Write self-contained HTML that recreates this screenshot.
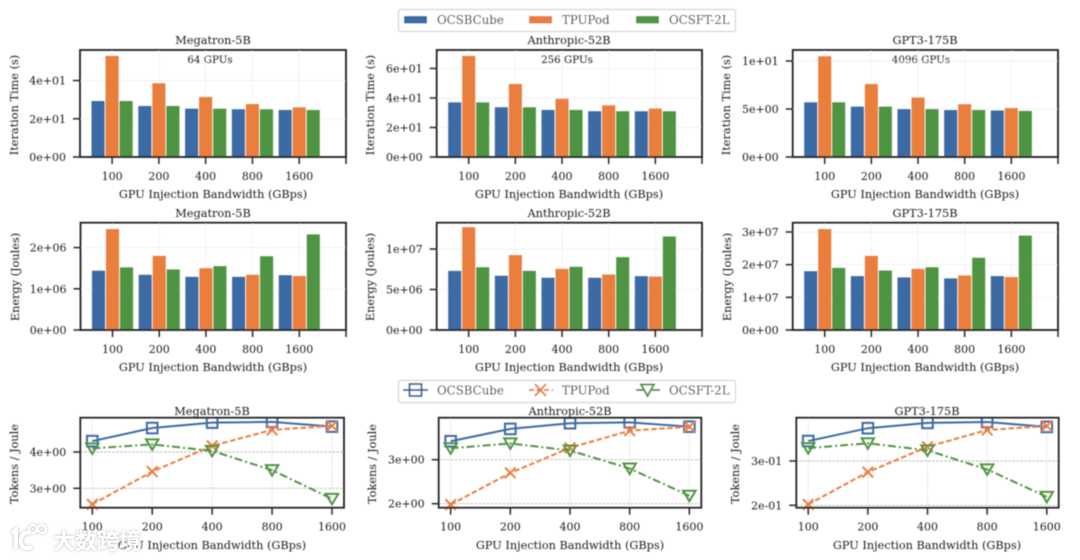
<!DOCTYPE html>
<html lang="en">
<head>
<meta charset="utf-8">
<title>GPU Injection Bandwidth Comparison</title>
<style>
html,body{margin:0;padding:0;background:#fff;}
body{width:1080px;height:560px;overflow:hidden;}
svg{display:block;}
text{font-family:"DejaVu Serif","Liberation Serif",serif;fill:#1c1c1c;}
.tk{font-size:11px;}
.lb{font-size:11.3px;text-anchor:middle;}
.an{font-size:10.3px;text-anchor:middle;}
.lg{font-size:11.8px;}
.wm{font-family:"Liberation Sans","Noto Sans CJK SC",sans-serif;fill:#fff;font-weight:700;font-size:22px;}
</style>
</head>
<body>
<svg id="chart" xmlns="http://www.w3.org/2000/svg" width="1080" height="560" viewBox="0 0 1080 560">
<defs>
<filter id="soft" x="-2%" y="-2%" width="104%" height="104%"><feGaussianBlur stdDeviation="0.42"/></filter>
<filter id="glow" x="-20%" y="-20%" width="140%" height="140%"><feGaussianBlur stdDeviation="1.6"/></filter>
</defs>
<rect width="1080" height="560" fill="#fff"/>
<g id="plot" filter="url(#soft)">
<g id="panels"></g>

<g>
<text class="lb" x="213" y="44">Megatron-5B</text>
<text class="lb" x="569" y="44">Anthropic-52B</text>
<text class="lb" x="925" y="44">GPT3-175B</text>
<text class="lb" x="213" y="217">Megatron-5B</text>
<text class="lb" x="569" y="217">Anthropic-52B</text>
<text class="lb" x="925" y="217">GPT3-175B</text>
<text class="lb" x="212" y="415">Megatron-5B</text>
<text class="lb" x="570" y="415">Anthropic-52B</text>
<text class="lb" x="927" y="415">GPT3-175B</text>
</g>

<g>
<text class="an" x="210" y="63">64 GPUs</text>
<text class="an" x="567" y="63">256 GPUs</text>
<text class="an" x="921" y="63">4096 GPUs</text>
</g>

<g>
<text class="lb" x="213" y="198">GPU Injection Bandwidth (GBps)</text>
<text class="lb" x="569" y="198">GPU Injection Bandwidth (GBps)</text>
<text class="lb" x="925" y="198">GPU Injection Bandwidth (GBps)</text>
<text class="lb" x="213" y="371">GPU Injection Bandwidth (GBps)</text>
<text class="lb" x="569" y="371">GPU Injection Bandwidth (GBps)</text>
<text class="lb" x="925" y="371">GPU Injection Bandwidth (GBps)</text>
<text class="lb" x="212" y="549">GPU Injection Bandwidth (GBps)</text>
<text class="lb" x="570" y="549">GPU Injection Bandwidth (GBps)</text>
<text class="lb" x="927" y="549">GPU Injection Bandwidth (GBps)</text>
</g>

<g>
<text class="lb" transform="translate(18 105) rotate(-90)">Iteration Time (s)</text>
<text class="lb" transform="translate(374 105) rotate(-90)">Iteration Time (s)</text>
<text class="lb" transform="translate(730 105) rotate(-90)">Iteration Time (s)</text>
<text class="lb" transform="translate(19 277) rotate(-90)">Energy (Joules)</text>
<text class="lb" transform="translate(374 277) rotate(-90)">Energy (Joules)</text>
<text class="lb" transform="translate(731 277) rotate(-90)">Energy (Joules)</text>
<text class="lb" transform="translate(18 464) rotate(-90)">Tokens / Joule</text>
<text class="lb" transform="translate(376 464) rotate(-90)">Tokens / Joule</text>
<text class="lb" transform="translate(739 464) rotate(-90)">Tokens / Joule</text>
</g>

<g>
<rect x="398.5" y="9.5" width="337" height="22" rx="2" fill="#fff" stroke="#d4d4d4" stroke-width="1.2"/>
<rect x="404" y="16" width="23" height="7.5" fill="#3a6ba5"/>
<text class="lg" x="437" y="24">OCSBCube</text>
<rect x="529" y="16" width="23" height="7.5" fill="#e97e3e"/>
<text class="lg" x="562" y="24">TPUPod</text>
<rect x="636" y="16" width="23" height="7.5" fill="#4f9442"/>
<text class="lg" x="669" y="24">OCSFT-2L</text>
</g>

<g>
<rect x="398.5" y="380.5" width="337" height="22" rx="2" fill="#fff" stroke="#d4d4d4" stroke-width="1.2"/>
<g>
<line x1="403" y1="390" x2="428" y2="390" stroke="#3a6ba5" stroke-width="2"/>
<rect x="409.5" y="384" width="12" height="12" fill="none" stroke="#3a6ba5" stroke-width="2"/>
</g>
<text class="lg" x="437" y="394.5">OCSBCube</text>
<g>
<line x1="529" y1="390" x2="553" y2="390" stroke="#e97e3e" stroke-width="2" stroke-dasharray="5 2.5"/>
<path d="M535 384L546 396M546 384L535 396" fill="none" stroke="#e97e3e" stroke-width="2"/>
</g>
<text class="lg" x="562" y="394.5">TPUPod</text>
<g>
<line x1="636" y1="390" x2="660" y2="390" stroke="#4f9442" stroke-width="2" stroke-dasharray="8 3 2 3"/>
<path d="M641 384.5H654L647.5 396Z" fill="#fff" stroke="#4f9442" stroke-width="2"/>
</g>
<text class="lg" x="669" y="394.5">OCSFT-2L</text>
</g>
</g>

<g>
<g filter="url(#glow)" opacity="0.8">
<text class="wm" x="53" y="549" style="fill:#aaa">大数跨境</text>
<path d="M12 533L16 530V549M30 533C22 531 20 538 21 543C22 548 27 549 32 547" fill="none" stroke="#aaa" stroke-width="4"/>
<circle cx="33" cy="529" r="4" fill="none" stroke="#aaa" stroke-width="2"/>
<circle cx="42" cy="529" r="4" fill="none" stroke="#aaa" stroke-width="2"/>
</g>
<path d="M12 533L16 530V549M30 533C22 531 20 538 21 543C22 548 27 549 32 547" fill="none" stroke="#fff" stroke-width="4"/>
<circle cx="33" cy="529" r="4" fill="none" stroke="#fff" stroke-width="2"/>
<circle cx="42" cy="529" r="4" fill="none" stroke="#fff" stroke-width="2"/>
<text class="wm" x="53" y="549">大数跨境</text>
</g>
</svg>

<script>
const categories = ["100", "200", "400", "800", "1600"];

const iterMegatronOCSBCube = [29.3, 26.7, 25.3, 25.0, 24.6];
const iterMegatronTPUPod = [52.9, 38.6, 31.4, 27.7, 26.0];
const iterMegatronOCSFT = [29.3, 26.7, 25.3, 25.0, 24.6];
const iterMegatronTicks = [0, 20, 40];
const iterMegatronTickLabels = ["0e+00", "2e+01", "4e+01"];

const iterAnthropicOCSBCube = [37.0, 33.7, 31.9, 31.0, 31.0];
const iterAnthropicTPUPod = [68.5, 49.5, 39.5, 35.0, 32.8];
const iterAnthropicOCSFT = [37.0, 33.7, 31.9, 31.0, 31.0];
const iterAnthropicTicks = [0, 20, 40, 60];
const iterAnthropicTickLabels = ["0e+00", "2e+01", "4e+01", "6e+01"];

const iterGptOCSBCube = [5.7, 5.25, 5.0, 4.9, 4.85];
const iterGptTPUPod = [10.5, 7.6, 6.2, 5.5, 5.1];
const iterGptOCSFT = [5.7, 5.25, 5.0, 4.9, 4.8];
const iterGptTicks = [0, 5, 10];
const iterGptTickLabels = ["0e+00", "5e+00", "1e+01"];

const energyMegatronOCSBCube = [1.44e6, 1.34e6, 1.29e6, 1.29e6, 1.33e6];
const energyMegatronTPUPod = [2.45e6, 1.80e6, 1.50e6, 1.34e6, 1.31e6];
const energyMegatronOCSFT = [1.52e6, 1.47e6, 1.55e6, 1.79e6, 2.32e6];
const energyMegatronTicks = [0, 1e6, 2e6];
const energyMegatronTickLabels = ["0e+00", "1e+06", "2e+06"];

const energyAnthropicOCSBCube = [7.3e6, 6.7e6, 6.45e6, 6.45e6, 6.65e6];
const energyAnthropicTPUPod = [12.7e6, 9.25e6, 7.55e6, 6.85e6, 6.6e6];
const energyAnthropicOCSFT = [7.75e6, 7.3e6, 7.8e6, 9.0e6, 11.55e6];
const energyAnthropicTicks = [0, 5e6, 1e7];
const energyAnthropicTickLabels = ["0e+00", "5e+06", "1e+07"];

const energyGptOCSBCube = [1.80e7, 1.65e7, 1.61e7, 1.58e7, 1.65e7];
const energyGptTPUPod = [3.09e7, 2.27e7, 1.87e7, 1.67e7, 1.62e7];
const energyGptOCSFT = [1.90e7, 1.82e7, 1.92e7, 2.21e7, 2.89e7];
const energyGptTicks = [0, 1e7, 2e7, 3e7];
const energyGptTickLabels = ["0e+00", "1e+07", "2e+07", "3e+07"];

const tokensMegatronOCSBCube = [4.30, 4.66, 4.81, 4.83, 4.70];
const tokensMegatronTPUPod = [2.56, 3.46, 4.17, 4.61, 4.72];
const tokensMegatronOCSFT = [4.10, 4.21, 4.03, 3.50, 2.71];
const tokensMegatronTicks = [3, 4];
const tokensMegatronTickLabels = ["3e+00", "4e+00"];

const tokensAnthropicOCSBCube = [3.42, 3.70, 3.83, 3.85, 3.75];
const tokensAnthropicTPUPod = [1.98, 2.70, 3.27, 3.66, 3.75];
const tokensAnthropicOCSFT = [3.26, 3.37, 3.21, 2.80, 2.18];
const tokensAnthropicTicks = [2, 3];
const tokensAnthropicTickLabels = ["2e+00", "3e+00"];

const tokensGptOCSBCube = [0.345, 0.374, 0.386, 0.388, 0.377];
const tokensGptTPUPod = [0.202, 0.275, 0.332, 0.370, 0.379];
const tokensGptOCSFT = [0.329, 0.340, 0.324, 0.281, 0.219];
const tokensGptTicks = [0.2, 0.3];
const tokensGptTickLabels = ["2e-01", "3e-01"];

const seriesNames = ["ocsbcube", "tpupod", "ocsft"];
const barColors = ["#3a6ba5", "#e97e3e", "#4f9442"];

const NS = "http://www.w3.org/2000/svg";
const root = document.getElementById("panels");

function make(tag, attrs, parent, text) {
  const el = document.createElementNS(NS, tag);
  for (const k in attrs) el.setAttribute(k, attrs[k]);
  if (text !== undefined) el.textContent = text;
  parent.appendChild(el);
  return el;
}

function axisX(box, lo, hi) {
  return function (v) { return box.l + (v - lo) / (hi - lo) * (box.r - box.l); };
}
function axisY(box, lo, hi) {
  return function (v) { return box.b - (v - lo) / (hi - lo) * (box.b - box.t); };
}

function drawYTicks(g, box, y, ticks, labels, grid) {
  ticks.forEach(function (t, i) {
    const py = y(t);
    if (grid === "bar") {
      const gl = make("line", { x1: box.l, x2: box.r, y1: py, y2: py, stroke: "#f1f1f1", "stroke-width": 1 }, g);
      
      
    } else {
      const gl = make("line", { x1: box.l, x2: box.r, y1: py, y2: py, stroke: "#b5b5b5", "stroke-width": 0.9, "stroke-dasharray": "2.5 1.5" }, g);
      
      
    }
    const tick = make("line", { x1: box.l - 7, x2: box.l, y1: py, y2: py, stroke: "#262626", "stroke-width": 1.5 }, g);
    
    
    const lab = make("text", { class: "tk", x: box.l - 14, y: py + 4, "text-anchor": "end" }, g, labels[i]);
    
    
  });
}

function drawXTicks(g, box, x, grid, labelY, extra) {
  const n = categories.length + (extra ? 1 : 0);
  for (let i = 0; i < n; i++) {
    const px = x(i);
    if (grid === "bar") {
      const gl = make("line", { x1: px, x2: px, y1: box.t, y2: box.b, stroke: "#f1f1f1", "stroke-width": 1 }, g);
      
      
    } else {
      const gl = make("line", { x1: px, x2: px, y1: box.t, y2: box.b, stroke: "#d2d2d2", "stroke-width": 0.9, "stroke-dasharray": "1.5 1.5" }, g);
      
      
    }
    const tick = make("line", { x1: px, x2: px, y1: box.b, y2: box.b + 7, stroke: "#262626", "stroke-width": 1.5 }, g);
    
    
    if (i < categories.length) {
      const lab = make("text", { class: "tk", x: px, y: labelY, "text-anchor": "middle" }, g, categories[i]);
      
      
    }
  }
}

function drawFrame(g, box) {
  const f = make("rect", { x: box.l, y: box.t, width: box.r - box.l, height: box.b - box.t, fill: "none", stroke: "#222", "stroke-width": 1.8 }, g);
  
  
}

function barPanel(name, box, yMax, series, ticks, labels, labelY) {
  const g = make("g", {}, root);
  
  
  const x = axisX(box, -0.686, 5);
  const y = axisY(box, 0, yMax);
  drawYTicks(g, box, y, ticks, labels, "bar");
  drawXTicks(g, box, x, "bar", labelY, true);
  series.forEach(function (vals, s) {
    vals.forEach(function (v, i) {
      const x0 = x(i + (s - 1) * 0.3 - 0.14);
      const x1 = x(i + (s - 1) * 0.3 + 0.14);
      const bar = make("rect", { x: x0, y: y(v), width: x1 - x0, height: y(0) - y(v), fill: barColors[s] }, g);
      
      
    });
  });
  drawFrame(g, box);
}

let clipCount = 0;
function marker(g, s, px, py) {
  if (s === 0) {
    return make("rect", { x: px - 5.3, y: py - 5.3, width: 10.6, height: 10.6, fill: "none", stroke: barColors[0], "stroke-width": 2 }, g);
  }
  if (s === 1) {
    return make("path", { d: "M" + (px - 5.3) + " " + (py - 5.3) + "L" + (px + 5.3) + " " + (py + 5.3) + "M" + (px + 5.3) + " " + (py - 5.3) + "L" + (px - 5.3) + " " + (py + 5.3), fill: "none", stroke: barColors[1], "stroke-width": 2 }, g);
  }
  return make("path", { d: "M" + (px - 6.2) + " " + (py - 5) + "H" + (px + 6.2) + "L" + px + " " + (py + 5.5) + "Z", fill: "none", stroke: barColors[2], "stroke-width": 2 }, g);
}

function linePanel(name, box, yLo, yHi, series, ticks, labels, labelY) {
  const g = make("g", {}, root);
  
  
  const x = axisX(box, -0.2, 4.2);
  const y = axisY(box, yLo, yHi);
  drawYTicks(g, box, y, ticks, labels, "line");
  drawXTicks(g, box, x, "line", labelY, false);
  const id = "clip" + (clipCount++);
  const cp = make("clipPath", { id: id }, g);
  make("rect", { x: box.l, y: box.t, width: box.r - box.l, height: box.b - box.t + 4 }, cp);
  const inner = make("g", { "clip-path": "url(#" + id + ")" }, g);
  const dashes = ["none", "5.5 2.5", "8 3 2 3"];
  series.forEach(function (vals, s) {
    const pts = vals.map(function (v, i) { return x(i) + "," + y(v); }).join(" ");
    const line = make("polyline", { points: pts, fill: "none", stroke: barColors[s], "stroke-width": 2, "stroke-dasharray": dashes[s] }, inner);
    
    
    vals.forEach(function (v, i) {
      const m = marker(inner, s, x(i), y(v));
      
      
    });
  });
  drawFrame(g, box);
}

barPanel("panel-iter-megatron", { l: 80, r: 346, t: 50, b: 157 }, 56,
  [iterMegatronOCSBCube, iterMegatronTPUPod, iterMegatronOCSFT], iterMegatronTicks, iterMegatronTickLabels, 180);
barPanel("panel-iter-anthropic", { l: 436.7, r: 702, t: 50, b: 157 }, 72.5,
  [iterAnthropicOCSBCube, iterAnthropicTPUPod, iterAnthropicOCSFT], iterAnthropicTicks, iterAnthropicTickLabels, 180);
barPanel("panel-iter-gpt3", { l: 792.7, r: 1058, t: 50, b: 157 }, 11.15,
  [iterGptOCSBCube, iterGptTPUPod, iterGptOCSFT], iterGptTicks, iterGptTickLabels, 180);

barPanel("panel-energy-megatron", { l: 80.5, r: 346, t: 222.7, b: 330 }, 2.604e6,
  [energyMegatronOCSBCube, energyMegatronTPUPod, energyMegatronOCSFT], energyMegatronTicks, energyMegatronTickLabels, 353);
barPanel("panel-energy-anthropic", { l: 436.7, r: 702, t: 222.7, b: 330 }, 13.25e6,
  [energyAnthropicOCSBCube, energyAnthropicTPUPod, energyAnthropicOCSFT], energyAnthropicTicks, energyAnthropicTickLabels, 353);
barPanel("panel-energy-gpt3", { l: 792.7, r: 1058, t: 222.7, b: 330 }, 3.284e7,
  [energyGptOCSBCube, energyGptTPUPod, energyGptOCSFT], energyGptTicks, energyGptTickLabels, 353);

linePanel("panel-tokens-megatron", { l: 80.3, r: 344, t: 417.7, b: 507.7 }, 2.466, 4.945,
  [tokensMegatronOCSBCube, tokensMegatronTPUPod, tokensMegatronOCSFT], tokensMegatronTicks, tokensMegatronTickLabels, 530.5);
linePanel("panel-tokens-anthropic", { l: 438.7, r: 701.3, t: 417.7, b: 507.7 }, 1.909, 3.955,
  [tokensAnthropicOCSBCube, tokensAnthropicTPUPod, tokensAnthropicOCSFT], tokensAnthropicTicks, tokensAnthropicTickLabels, 530.5);
linePanel("panel-tokens-gpt3", { l: 796.3, r: 1058.7, t: 417.7, b: 507.7 }, 0.1946, 0.3977,
  [tokensGptOCSBCube, tokensGptTPUPod, tokensGptOCSFT], tokensGptTicks, tokensGptTickLabels, 530.5);
</script>
</body>
</html>
